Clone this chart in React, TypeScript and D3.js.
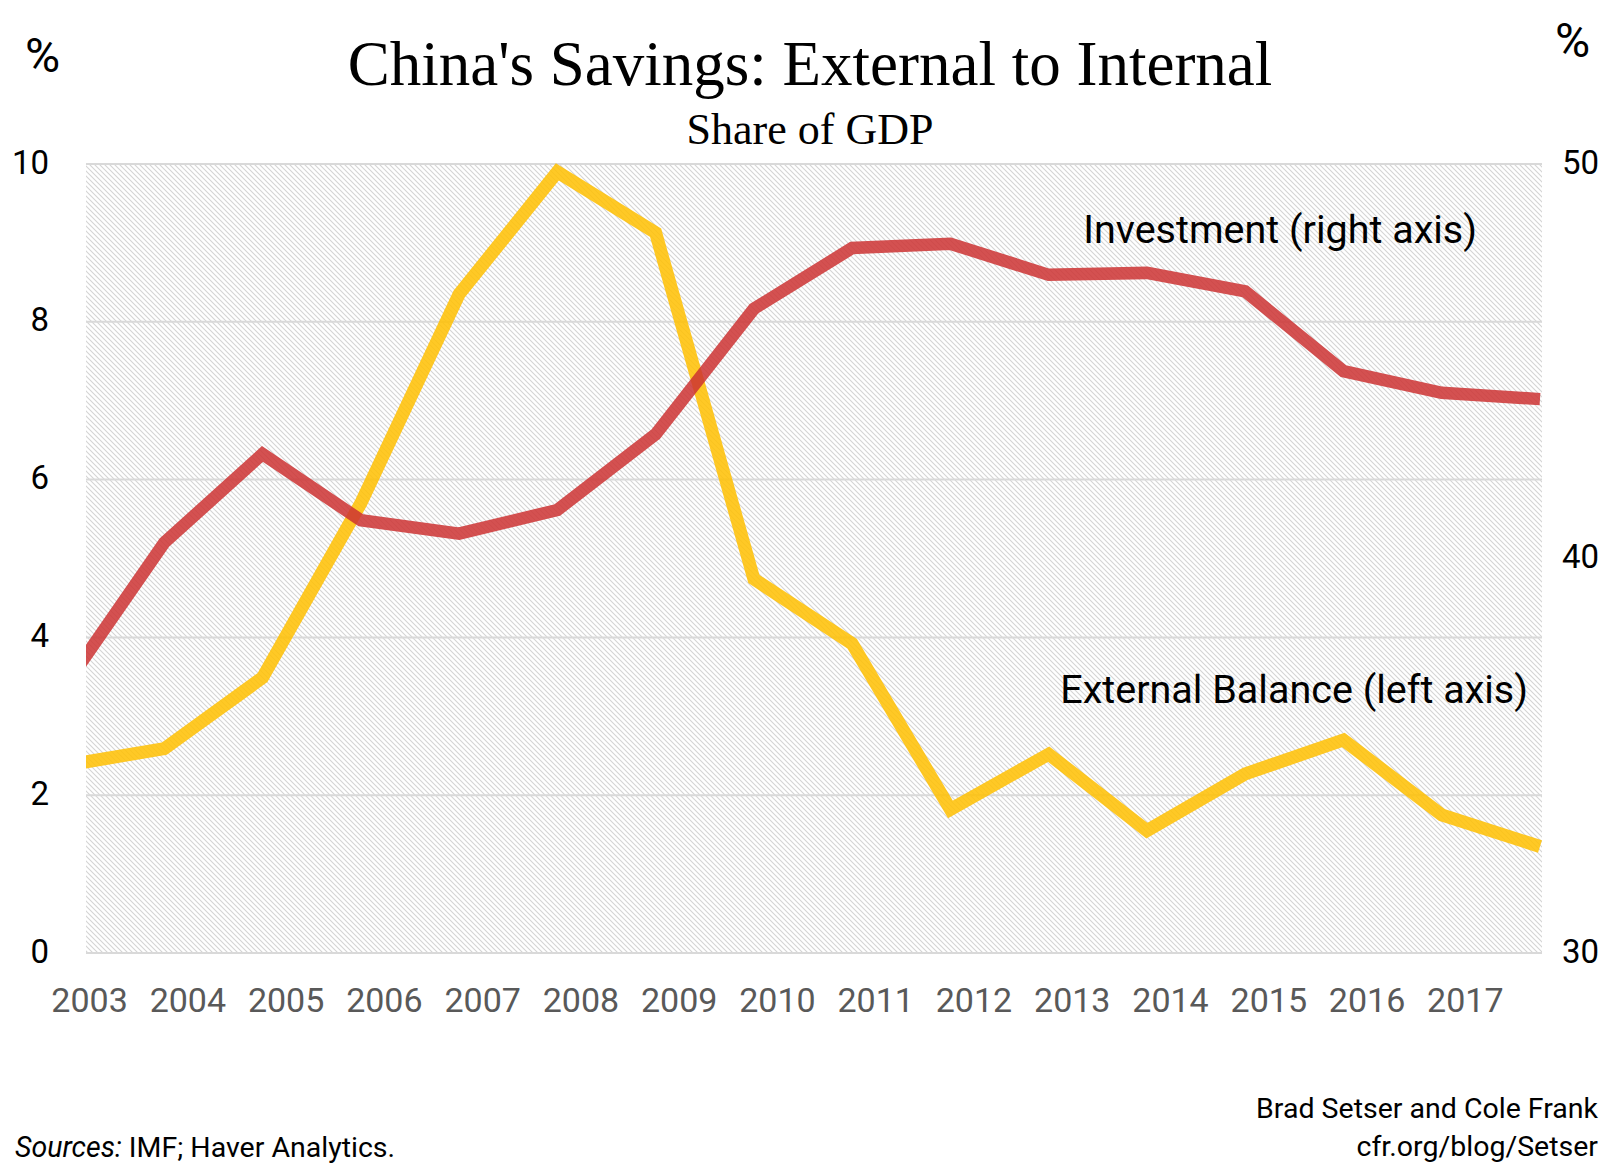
import * as d3 from "d3";

// Plot frame, in page pixels
const W = 1622;
const H = 1163;
const PLOT = { left: 86, right: 1542, top: 164, bottom: 953 };

// Data positions (one point per year) and axis labels
const YEARS = [2003, 2004, 2005, 2006, 2007, 2008, 2009, 2010, 2011, 2012, 2013, 2014, 2015, 2016, 2017, 2018];
const YEAR_LABELS = [2003, 2004, 2005, 2006, 2007, 2008, 2009, 2010, 2011, 2012, 2013, 2014, 2015, 2016, 2017];

// External balance, % of GDP (left axis)
const EXTERNAL_BALANCE = [2.38, 2.59, 3.49, 5.7, 8.35, 9.9, 9.13, 4.74, 3.92, 1.82, 2.52, 1.55, 2.27, 2.7, 1.75, 1.35];
// Investment, % of GDP (right axis)
const INVESTMENT = [36.8, 40.4, 42.65, 40.97, 40.63, 41.23, 43.15, 46.33, 47.87, 47.98, 47.19, 47.24, 46.77, 44.75, 44.2, 44.04];

const LEFT_TICKS = [0, 2, 4, 6, 8, 10];
const RIGHT_TICKS = [30, 40, 50];

const SANS = "Roboto, 'Noto Sans', sans-serif";
const SERIF = "'Liberation Serif', 'DejaVu Serif', serif";

export default function App() {
  const x = d3.scaleLinear().domain([2003, 2018]).range([66, 1540]);
  const yL = d3.scaleLinear().domain([0, 10]).range([PLOT.bottom, PLOT.top]);
  const yR = d3.scaleLinear().domain([30, 50]).range([PLOT.bottom, PLOT.top]);

  const extLine = d3
    .line<number>()
    .x((_, i) => x(YEARS[i]))
    .y((d) => yL(d));
  const invLine = d3
    .line<number>()
    .x((_, i) => x(YEARS[i]))
    .y((d) => yR(d));

  const plotW = PLOT.right - PLOT.left;
  const plotH = PLOT.bottom - PLOT.top;

  return (
    <div style={{ position: "absolute", left: 0, top: 0 }}>
      <svg width={W} height={H} style={{ display: "block", background: "#fff" }}>
        <defs>
          <pattern id="hatch" patternUnits="userSpaceOnUse" width={5} height={5}>
            <path d="M0,0 L5,5 M-1,4 L1,6 M4,-1 L6,1" stroke="#d4d4d4" strokeWidth={1.1} />
          </pattern>
          <clipPath id="plotClip">
            <rect x={PLOT.left} y={PLOT.top - 20} width={plotW} height={plotH + 40} />
          </clipPath>
        </defs>

        {/* title block */}
        <text x={810} y={85} textAnchor="middle" fontFamily={SERIF} fontSize={63} fill="#000">
          China's Savings: External to Internal
        </text>
        <text x={810} y={144} textAnchor="middle" fontFamily={SERIF} fontSize={44} fill="#000">
          Share of GDP
        </text>
        <text x={25} y={72} fontFamily={SANS} fontSize={48} fill="#000">%</text>
        <text x={1555} y={57} fontFamily={SANS} fontSize={48} fill="#000">%</text>

        {/* hatched plot background */}
        <rect x={PLOT.left} y={PLOT.top} width={plotW} height={plotH} fill="url(#hatch)" />

        {/* horizontal gridlines */}
        {LEFT_TICKS.map((t) => (
          <line key={t} x1={PLOT.left} x2={PLOT.right} y1={yL(t)} y2={yL(t)} stroke="#d9d9d9" strokeWidth={2} />
        ))}

        {/* left axis labels */}
        {LEFT_TICKS.map((t) => (
          <text key={t} x={49} y={yL(t) - 2} textAnchor="end" dominantBaseline="central"
            fontFamily={SANS} fontSize={33} fill="#000">
            {t}
          </text>
        ))}

        {/* right axis labels */}
        {RIGHT_TICKS.map((t) => (
          <text key={t} x={1562} y={yR(t) - 2} dominantBaseline="central"
            fontFamily={SANS} fontSize={33} fill="#000">
            {t}
          </text>
        ))}

        {/* x axis labels */}
        {YEAR_LABELS.map((yr) => (
          <text key={yr} x={x(yr + 0.24)} y={1012} textAnchor="middle"
            fontFamily={SANS} fontSize={34} fill="#595959">
            {yr}
          </text>
        ))}

        {/* series */}
        <g clipPath="url(#plotClip)">
          <path d={extLine(EXTERNAL_BALANCE) ?? ""} fill="none" stroke="#ffc000" strokeOpacity={0.85}
            strokeWidth={13} strokeLinejoin="miter" />
          <path d={invLine(INVESTMENT) ?? ""} fill="none" stroke="#cc3333" strokeOpacity={0.85}
            strokeWidth={12.5} strokeLinejoin="miter" />
        </g>

        {/* direct labels */}
        <text x={1477} y={243} textAnchor="end" fontFamily={SANS} fontSize={39.5} fill="#000">
          Investment (right axis)
        </text>
        <text x={1528} y={703} textAnchor="end" fontFamily={SANS} fontSize={39.5} fill="#000">
          External Balance (left axis)
        </text>

        {/* footer */}
        <text x={15} y={1157} fontFamily={SANS} fontSize={28.5} fill="#000">
          <tspan fontStyle="italic">Sources:</tspan> IMF; Haver Analytics.
        </text>
        <text x={1598} y={1118} textAnchor="end" fontFamily={SANS} fontSize={28.5} fill="#000">
          Brad Setser and Cole Frank
        </text>
        <text x={1598} y={1156} textAnchor="end" fontFamily={SANS} fontSize={28.5} fill="#000">
          cfr.org/blog/Setser
        </text>
      </svg>
    </div>
  );
}
